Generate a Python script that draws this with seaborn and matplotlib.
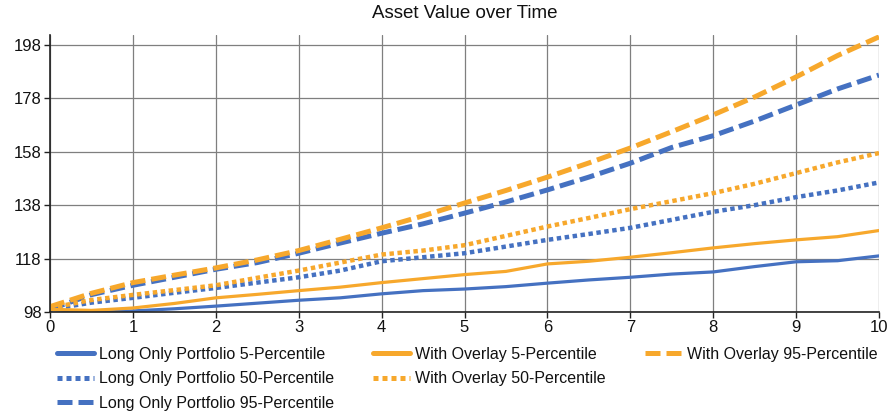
"""Asset value over time: long-only portfolio vs. overlay percentiles."""

import matplotlib

matplotlib.use("Agg")
import matplotlib.pyplot as plt
import pandas as pd
import seaborn as sns
from matplotlib.lines import Line2D

YEARS = [0, 0.5, 1, 1.5, 2, 2.5, 3, 3.5, 4, 4.5, 5,
         5.5, 6, 6.5, 7, 7.5, 8, 8.5, 9, 9.5, 10]

LONG_P5 = [99, 97.8, 98.4, 99.2, 100.2, 101.3, 102.4, 103.3, 104.8, 106.0, 106.6,
           107.5, 108.8, 110.0, 111.0, 112.2, 113.0, 115.0, 116.8, 117.2, 119.0]
LONG_P50 = [99, 101.5, 103.3, 105.2, 107.0, 109.0, 111.0, 113.5, 117.0, 118.5, 120.0,
            122.5, 125.0, 127.2, 129.5, 132.5, 135.5, 138.0, 141.0, 143.5, 146.5]
LONG_P95 = [99, 104.5, 108.0, 111.0, 114.0, 116.5, 120.0, 123.8, 127.5, 131.0, 135.0,
            139.2, 143.7, 148.5, 153.7, 159.6, 164.0, 169.5, 175.5, 181.5, 186.7]
OVER_P5 = [99, 98.6, 99.5, 101.2, 103.3, 104.6, 106.0, 107.3, 109.0, 110.5, 112.0,
           113.2, 116.0, 117.0, 118.5, 120.2, 122.0, 123.6, 125.0, 126.2, 128.5]
OVER_P50 = [99.5, 102.5, 104.4, 106.2, 108.0, 110.8, 113.5, 116.5, 119.5, 121.0, 123.0,
            126.5, 130.0, 133.2, 136.5, 139.5, 142.5, 146.0, 150.0, 154.0, 157.5]
OVER_P95 = [100, 105.0, 109.0, 111.8, 114.5, 117.5, 121.0, 125.2, 129.5, 134.0, 138.8,
            143.5, 148.5, 153.8, 159.4, 165.5, 171.8, 178.5, 186.0, 194.0, 201.0]

Y_TICKS = [98, 118, 138, 158, 178, 198]
X_TICKS = list(range(0, 11))

BLUE = "#4571C1"
ORANGE = "#F7A82C"

SERIES = [
    ("Long Only Portfolio 5-Percentile", LONG_P5, BLUE, "solid"),
    ("Long Only Portfolio 50-Percentile", LONG_P50, BLUE, "dotted"),
    ("Long Only Portfolio 95-Percentile", LONG_P95, BLUE, "dashed"),
    ("With Overlay 5-Percentile", OVER_P5, ORANGE, "solid"),
    ("With Overlay 50-Percentile", OVER_P50, ORANGE, "dotted"),
    ("With Overlay 95-Percentile", OVER_P95, ORANGE, "dashed"),
]
STYLES = {
    "solid": dict(linewidth=2.3, dashes=""),
    "dotted": dict(linewidth=3.2, dashes=(1.0, 0.8)),
    "dashed": dict(linewidth=3.6, dashes=(3.0, 1.2)),
}
# legend columns, as in the reference (3 / 2 / 1 entries)
LEGEND_COLUMNS = [[0, 1, 2], [3, 4], [5]]
LEGEND_X = [57, 373, 645]

sns.set_theme(style="white")
plt.rcParams["font.family"] = ["Liberation Sans", "DejaVu Sans"]

W, H = 891, 413
fig = plt.figure(figsize=(W / 100, H / 100), dpi=100)
ax = fig.add_axes([50 / W, 1 - 312 / H, 829 / W, 277 / H])

handles = []
for label, values, color, kind in SERIES:
    frame = pd.DataFrame({"year": YEARS, "value": values})
    style = STYLES[kind]
    sns.lineplot(data=frame, x="year", y="value", ax=ax, color=color,
                 linewidth=style["linewidth"], legend=False)
    line = ax.lines[-1]
    if style["dashes"]:
        line.set_dashes(style["dashes"])
    handles.append(Line2D([], [], color=color, linewidth=3.6,
                          dashes=style["dashes"] or (None, None), label=label))

ax.set_xlim(0, 10)
ax.set_ylim(98, 201.7)
ax.set_xticks(X_TICKS)
ax.set_yticks(Y_TICKS)
ax.set_xlabel("")
ax.set_ylabel("")
ax.grid(True, color="#7f7f7f", linewidth=0.9)
for side in ("top", "right"):
    ax.spines[side].set_visible(False)
for side in ("left", "bottom"):
    ax.spines[side].set_color("#222222")
    ax.spines[side].set_linewidth(1.2)
ax.tick_params(axis="both", which="both", direction="out", length=4, width=1,
               color="#222222", labelsize=12, labelcolor="#111111", pad=2,
               left=True, bottom=True)

fig.text(465 / W, 1 - 14 / H, "Asset Value over Time", ha="center",
         va="center", fontsize=13.5, color="#111111")

for idx, x_px in zip(LEGEND_COLUMNS, LEGEND_X):
    col = [handles[i] for i in idx]
    fig.legend(handles=col, labels=[h.get_label() for h in col],
               loc="upper left", bbox_to_anchor=(x_px / W, 1 - 347 / H),
               frameon=False, fontsize=11.5, handlelength=2.3,
               handletextpad=0.3, labelspacing=0.58, borderpad=0,
               borderaxespad=0, labelcolor="#111111")

fig.savefig("out.png", dpi=100)
